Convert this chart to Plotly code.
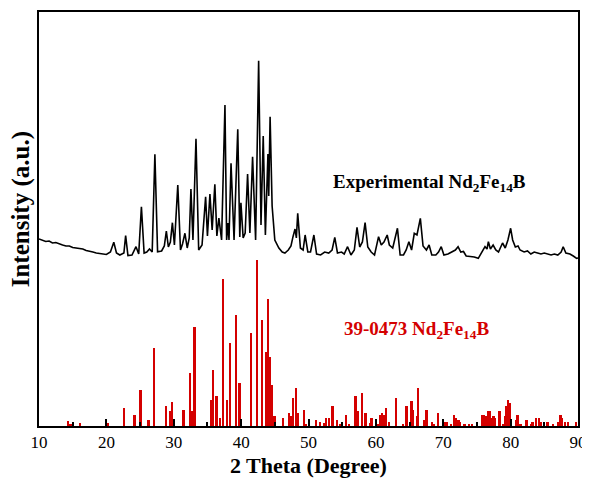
import plotly.graph_objects as go

# Experimental XRD pattern (2theta in degrees, intensity in a.u.)
exp_theta = [10.0, 10.5, 11.0, 11.5, 12.0, 12.5, 13.0, 13.5, 14.0, 14.5, 15.0, 15.5, 16.0, 16.5,
             17.0, 17.5, 18.0, 18.5, 19.0, 19.5, 20.0, 20.6, 21.1, 21.5, 22.0, 22.6, 22.86, 23.2,
             23.8, 24.4, 24.8, 25.2, 25.6, 26.0, 26.4, 26.8, 27.2, 27.6, 28.2, 28.6, 28.9, 29.2,
             29.5, 29.8, 30.1, 30.6, 31.0, 31.3, 31.66, 32.0, 32.3, 32.55, 32.85, 33.3, 33.7, 34.2,
             34.73, 35.0, 35.37, 35.7, 36.1, 36.4, 36.7, 37.1, 37.6, 37.85, 38.05, 38.2, 38.5, 38.95,
             39.5, 39.8, 39.97, 40.3, 40.6, 40.96, 41.3, 41.7, 42.15, 42.6, 42.95, 43.28, 43.6, 43.98,
             44.1, 44.3, 44.6, 45.0, 45.6, 46.1, 46.5, 47.0, 47.4, 47.7, 48.0, 48.2, 48.4, 48.8,
             49.2, 49.5, 49.9, 50.3, 50.8, 51.2, 51.8, 52.4, 53.0, 53.5, 53.9, 54.3, 54.9, 55.3,
             55.8, 56.3, 56.8, 57.2, 57.6, 58.0, 58.4, 58.8, 59.3, 59.8, 60.4, 60.8, 61.2, 61.68,
             62.0, 62.5, 63.2, 63.6, 64.1, 64.5, 64.9, 65.3, 65.7, 66.1, 66.6, 67.0, 67.5, 67.9,
             68.3, 68.9, 69.3, 69.7, 70.1, 70.7, 71.3, 71.8, 72.2, 72.6, 73.0, 73.4, 74.0, 74.6,
             75.2, 75.7, 76.2, 76.5, 76.7, 77.0, 77.4, 77.8, 78.2, 78.8, 79.2, 79.6, 80.0, 80.3,
             80.7, 81.1, 81.4, 82.0, 82.5, 83.0, 83.5, 84.0, 84.5, 85.0, 85.5, 86.0, 86.5, 87.0,
             87.5, 87.8, 88.2, 88.8, 89.3, 89.8, 90.0]
exp_intensity = [187, 186, 184.5, 185, 183, 183.5, 182, 181, 180, 180, 178.5, 178, 177, 177,
                 175.5, 175, 174, 173, 172.5, 172, 171.5, 174, 183.7, 173, 171, 173, 190.3, 170.5,
                 171, 179.3, 172, 219.3, 173, 174, 177, 174, 271.7, 174.3, 175, 180, 195, 179,
                 184, 203.3, 181, 241, 176, 182, 192.7, 178, 188, 237, 186, 287.3, 176, 181,
                 229.3, 190, 232, 196, 241.7, 190, 208, 186, 321, 186, 203, 186, 262.7, 186,
                 296.7, 189, 223.3, 188, 193, 252, 193, 269.3, 186, 365.3, 201, 290, 191, 272,
                 230, 309.3, 220, 186, 178, 174, 173, 176, 180, 189.3, 197, 188, 212.7, 178,
                 176, 191, 174, 174, 191, 172, 171, 174, 173, 176, 188.7, 173, 174, 172,
                 179.3, 171, 176, 198.7, 179, 184, 203.3, 179, 174, 171, 189.3, 181, 184, 191,
                 181, 178, 197.7, 171, 171, 176, 184.3, 176, 192.7, 191, 207.7, 180, 176, 181,
                 171, 171, 174, 179.3, 171, 172, 174, 176, 179.3, 174, 174.5, 170, 169.5, 169,
                 167.7, 174, 179.3, 177, 184.3, 177, 181, 176, 174, 183, 178, 186, 197.7, 186,
                 179, 180, 176, 174, 175, 172, 174, 173, 172, 173, 172, 171, 172, 171,
                 174, 179.3, 173, 172, 170, 167.7, 168]

# Standard pattern PDF 39-0473 (stick positions and relative intensities)
ref_theta = [14.35, 14.7, 16.1, 20.3, 22.7, 24.2, 25.1, 26.3, 27.06, 28.84, 29.43, 29.73, 31.47,
             32.4, 32.8, 33.1, 35.52, 35.9, 36.4, 36.9, 37.4, 37.9, 38.34, 39.27, 39.8, 41.5,
             42.39, 43.09, 43.68, 43.87, 44.08, 44.32, 44.6, 45.0, 46.25, 47.09, 47.4, 47.79,
             48.13, 48.5, 49.35, 49.7, 51.2, 51.7, 52.4, 52.6, 53.1, 53.6, 54.3, 54.7, 55.6,
             56.0, 57.0, 57.33, 58.0, 58.5, 59.2, 59.4, 60.4, 60.74, 61.0, 61.2, 61.54, 62.0,
             62.97, 64.1, 64.6, 65.34, 65.6, 66.1, 66.33, 67.2, 67.5, 67.65, 68.4, 68.7, 69.3,
             70.34, 70.6, 71.2, 71.6, 71.87, 72.3, 72.5, 73.2, 73.9, 74.3, 75.77, 76.1, 76.4,
             76.77, 77.0, 77.3, 77.5, 77.75, 78.4, 78.9, 79.2, 79.43, 79.7, 79.9, 80.9, 81.07,
             81.5, 82.4, 83.1, 83.3, 83.84, 84.2, 84.5, 85.5, 86.3, 87.1, 87.45, 87.7, 88.1,
             88.6, 89.7]
ref_intensity = [5, 2, 3, 3, 18, 11, 36, 6, 78, 20, 15, 24, 16,
                 53, 15, 99, 26, 56, 30, 8, 147, 26, 83, 111, 43, 93,
                 166, 106, 74, 68, 127, 69, 41, 10, 8, 13, 10, 28,
                 38, 13, 16, 2, 6, 4, 3, 8, 8, 20, 6, 2, 11,
                 2, 30, 15, 33, 13, 3, 8, 2, 11, 13, 11, 18, 4,
                 28, 2, 20, 25, 16, 10, 38, 6, 16, 16, 4, 2, 13,
                 4, 4, 2, 11, 8, 6, 4, 2, 2, 2, 11, 11, 10,
                 15, 15, 8, 10, 8, 15, 2, 10, 20, 26, 23, 6, 11,
                 2, 6, 2, 4, 8, 8, 4, 4, 2, 4, 11, 8, 4,
                 4, 4]

x_ticks = [10, 20, 30, 40, 50, 60, 70, 80, 90]

SERIF = "Liberation Serif, Times New Roman, serif"
RED = "#D40000"

fig = go.Figure()
fig.add_trace(go.Bar(x=ref_theta, y=ref_intensity, width=0.26,
                     marker=dict(color=RED, line=dict(width=0)), showlegend=False))
fig.add_trace(go.Scatter(x=exp_theta, y=exp_intensity, mode="lines",
                         line=dict(color="black", width=1.6), showlegend=False))

fig.add_annotation(x=67.9, y=243, xref="x", yref="y",
                   text="<b>Experimental Nd<sub>2</sub>Fe<sub>14</sub>B</b>",
                   showarrow=False, font=dict(family=SERIF, size=19, color="black"))
fig.add_annotation(x=66.0, y=96, xref="x", yref="y",
                   text="<b>39-0473 Nd<sub>2</sub>Fe<sub>14</sub>B</b>",
                   showarrow=False, font=dict(family=SERIF, size=19, color=RED))

# axis titles
fig.add_annotation(x=0.5, y=-0.096, xref="paper", yref="paper",
                   text="<b>2 Theta (Degree)</b>", showarrow=False,
                   xanchor="center", yanchor="middle",
                   font=dict(family=SERIF, size=22, color="black"))
fig.add_annotation(x=-0.033, y=0.524, xref="paper", yref="paper",
                   text="<b>Intensity (a.u.)</b>", showarrow=False, textangle=-90,
                   xanchor="center", yanchor="middle",
                   font=dict(family=SERIF, size=25, color="black"))

# the page body adds an 8 px offset, so the figure is sized to fit inside the window
fig.update_layout(
    width=582, height=470,
    margin=dict(l=31, r=12, t=4, b=52),
    paper_bgcolor="white", plot_bgcolor="white",
    bargap=0,
    font=dict(family=SERIF, color="black"),
    xaxis=dict(range=[10, 90], tickvals=x_ticks, ticktext=[str(v) for v in x_ticks],
               ticks="inside", ticklen=7, tickwidth=2, tickcolor="black",
               minor=dict(ticks="inside", ticklen=4, tickwidth=2, dtick=5, tickcolor="black"),
               showline=True, linewidth=2, linecolor="black", mirror=True,
               showgrid=False, zeroline=False, automargin=False,
               tickfont=dict(family=SERIF, size=17, color="black")),
    yaxis=dict(range=[0, 414], showticklabels=False, ticks="",
               showline=True, linewidth=2, linecolor="black", mirror=True,
               showgrid=False, zeroline=False, automargin=False),
)

fig.write_html("out.html")
